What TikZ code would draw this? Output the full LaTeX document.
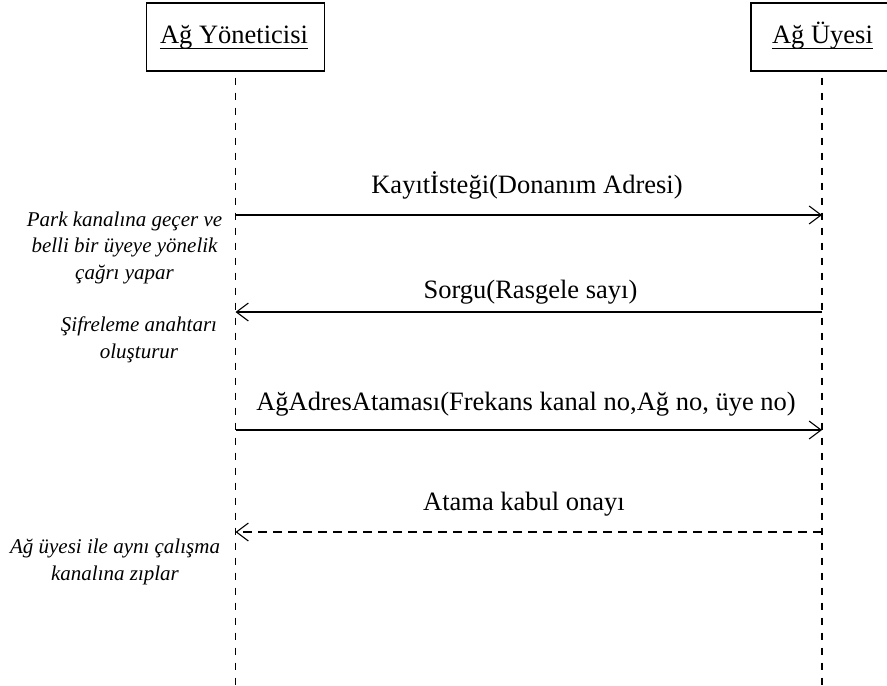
\documentclass[tikz,border=0pt]{standalone}
\usepackage{fontspec}
\setmainfont{Liberation Serif}
\usetikzlibrary{arrows.meta}
\begin{document}
\begin{tikzpicture}[x=1pt,y=-1pt,
  actor/.style={draw,line width=1.1pt,minimum width=#1,minimum height=68pt,inner sep=0pt},
  actorname/.style={anchor=base,inner sep=0pt,font=\fontsize{26.5}{30}\selectfont},
  lifeline/.style={line width=1.1pt,dash pattern=on 7pt off 8pt,dash phase=9pt},
  msg/.style={line width=1.1pt,-{Straight Barb[length=12pt,width=18pt,line width=1.1pt]}},
  reply/.style={msg,dash pattern=on 9pt off 6pt},
  msglabel/.style={anchor=base,inner sep=0pt,font=\fontsize{26.5}{30}\selectfont},
  note/.style={anchor=base,inner sep=0pt,align=center,font=\fontsize{21}{26.5}\selectfont\itshape}]
\clip (0,0) rectangle (887,686);
\useasboundingbox (0,0) rectangle (887,686);

% participants (the member's box runs past the right edge)
\node[actor=178pt] (b1) at (235.5,37) {};
\node[actor=170pt] (b2) at (836,37) {};
\node[actorname] (t1) at (234,43) {Ağ Yöneticisi};
\node[actorname] (t2) at (822.5,43) {Ağ Üyesi};
\draw[line width=1pt] ([yshift=-5pt]t1.base west) -- ([yshift=-5pt]t1.base east);
\draw[line width=1pt] ([yshift=-5pt]t2.base west) -- ([yshift=-5pt]t2.base east);

% lifelines
\coordinate (e1) at (235.5,690);
\coordinate (e2) at (822,690);
\draw[lifeline] (b1.south) -- (e1);
\draw[lifeline] (b2.south -| e2) -- (e2);

% message end points on the lifelines
\coordinate (p1) at (235.5,215);
\coordinate (q1) at (822,215);
\coordinate (p2) at (235.5,312);
\coordinate (q2) at (822,312);
\coordinate (p3) at (235.5,430);
\coordinate (q3) at (822,430);
\coordinate (p4) at (235.5,532);
\coordinate (q4) at (822,532);

% messages
\draw[msg] (p1) -- (q1);
\draw[msg] (q2) -- (p2);
\draw[msg] (p3) -- (q3);
\draw[reply] (q4) -- (p4);

\node[msglabel] (l1) at (527,193) {Kayıtİsteği(Donanım Adresi)};
\node[msglabel] (l2) at (530.5,298) {Sorgu(Rasgele sayı)};
\node[msglabel] (l3) at (526,410) {AğAdresAtaması(Frekans kanal no,Ağ no, üye no)};
\node[msglabel] (l4) at (524,510) {Atama kabul onayı};

% notes beside the manager's lifeline (base = last line)
\node[note] (n1) at (124.5,279) {Park kanalına geçer ve\\belli bir üyeye yönelik\\çağrı yapar};
\node[note] (n2) at (139,358) {Şifreleme anahtarı\\oluşturur};
\node[note] (n3) at (115,580) {Ağ üyesi ile aynı çalışma\\kanalına zıplar};
\end{tikzpicture}
\end{document}
